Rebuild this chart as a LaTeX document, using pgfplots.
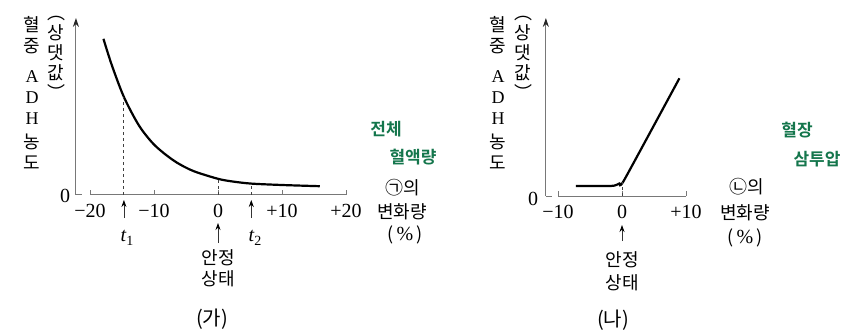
\documentclass[border=0pt]{standalone}
\usepackage{pgfplots}
\pgfplotsset{compat=1.18}
\usepackage{fontspec}
\setmainfont{Liberation Serif}
\newfontfamily\kr{Noto Sans CJK KR}
\newfontfamily\krb{Noto Sans CJK KR Bold}
\usetikzlibrary{arrows.meta}
\definecolor{axgray}{RGB}{120,120,120}
\definecolor{hand}{RGB}{20,118,76}
\begin{document}
\begin{tikzpicture}[x=1pt,y=1pt]
\useasboundingbox (0,0) rectangle (843,333);
\tikzset{lab/.style={font=\kr\fontsize{18}{21}\selectfont, inner sep=0},
         num/.style={font=\fontsize{20}{20}\selectfont, inner sep=0},
         grn/.style={font=\krb\fontsize{17}{18}\selectfont, text=hand, inner sep=0},
         arr/.style={-{Stealth[length=7pt,width=5pt,black]}, line width=0.8pt, black!80}}
\pgfplotsset{myax/.style={scale only axis, clip=false,
   axis x line*=bottom, axis y line=none,
   x axis line style={axgray, line width=1pt},
   xtick style={axgray, line width=1pt},
   tick align=inside, major tick length=5pt,
   xticklabel style={font=\fontsize{20}{20}\selectfont, inner sep=0, yshift=-9pt},
   ymin=0}}
% ---------------- panel (가)
\begin{axis}[myax, at={(90pt,138.5pt)}, anchor=south west, width=256pt, height=176.5pt,
   xmin=-20, xmax=20, ymax=176.5,
   xtick={-20,-10,0,10,20}, xticklabels={−20,−10,0,+10,+20}]
\addplot[black, line width=2.2pt, smooth] coordinates {
 (-17.9,155.7) (-16.6,129.5) (-14.7,97.5) (-12.4,69.5) (-10.3,52) (-8.5,41.5)
 (-6.45,32) (-3.86,23.5) (0,15.7) (2.3,13) (5.2,10.9) (10,9.5) (15.9,8.3)};
\addplot[black!75, dashed, line width=0.9pt] coordinates {(-14.7,0) (-14.7,97.5)};
\addplot[black!75, dashed, line width=0.9pt] coordinates {(0,0) (0,15.7)};
\addplot[black!75, dashed, line width=0.9pt] coordinates {(5.2,0) (5.2,10.9)};
\draw[axgray, line width=1pt, -{Stealth[length=9pt,width=6pt,black!85]}] (axis cs:-22.2,0) -- (axis cs:-22.2,176.5);
\draw[axgray, line width=1pt] (axis cs:-22.2,0) -- (axis cs:-21.2,0);
\draw[arr] (axis cs:-14.7,-23.5) -- (axis cs:-14.7,-5.5);
\draw[arr] (axis cs:5.2,-23.5) -- (axis cs:5.2,-5.5);
\draw[arr] (axis cs:0,-48.5) -- (axis cs:0,-28.5);
\end{axis}
% ---------------- panel (나)
\begin{axis}[myax, at={(558pt,137pt)}, anchor=south west, width=128pt, height=178pt,
   xmin=-10, xmax=10, ymax=178,
   xtick={-10,0,10}, xticklabels={−10,0,+10}]
\addplot[black, line width=2.2pt, smooth, tension=0.3] coordinates {
 (-7.2,10) (-1.8,10) (-1.0,10.8) (-0.4,12.5) (0.3,15.5) (8.97,117.7)};
\addplot[black!75, dashed, line width=0.9pt] coordinates {(0,0) (0,14.5)};
\draw[axgray, line width=1pt, -{Stealth[length=9pt,width=6pt,black!85]}] (axis cs:-11.9,0) -- (axis cs:-11.9,178);
\draw[axgray, line width=1pt] (axis cs:-11.9,0) -- (axis cs:-10.9,0);
\draw[arr] (axis cs:0,-45) -- (axis cs:0,-29);
\end{axis}
% ---------------- texts panel (가)
\node[num] at (65,137) {0};
\node[lab, anchor=north, align=center] at (32,317) {혈\\중\\[9pt]{\rmfamily A}\\{\rmfamily D}\\{\rmfamily H}\\[3pt]농\\도};
\node[lab, anchor=north, align=center, font=\kr\fontsize{18}{20}\selectfont] at (56,317) {︵\\상\\댓\\값\\︶};
\node[num] at (127,95) {\textit{t}\raisebox{-4pt}{\fontsize{14}{14}\selectfont 1}};
\node[num] at (255,95) {\textit{t}\raisebox{-4pt}{\fontsize{14}{14}\selectfont 2}};
\node[lab] at (218,75) {안정};
\node[lab] at (218,54) {상태};
\node[lab, font=\kr\fontsize{20}{20}\selectfont] at (212,14) {(가)};
\node[lab] at (403,145) {㉠의};
\node[lab] at (402,121) {변화량};
\node[lab] at (405,98) {({\rmfamily\fontsize{20}{20}\selectfont\,\%\,})};
\node[grn] at (386,204) {전체};
\node[grn] at (413,176) {혈액량};
% ---------------- texts panel (나)
\node[num] at (533,134) {0};
\node[lab, anchor=north, align=center] at (498,317) {혈\\중\\[9pt]{\rmfamily A}\\{\rmfamily D}\\{\rmfamily H}\\[3pt]농\\도};
\node[lab, anchor=north, align=center, font=\kr\fontsize{18}{20}\selectfont] at (523,317) {︵\\상\\댓\\값\\︶};
\node[lab] at (622,73) {안정};
\node[lab] at (622,50) {상태};
\node[lab, font=\kr\fontsize{20}{20}\selectfont] at (613,13) {(나)};
\node[lab] at (747,146) {㉡의};
\node[lab] at (745,120) {변화량};
\node[lab] at (745,95) {({\rmfamily\fontsize{20}{20}\selectfont\,\%\,})};
\node[grn] at (797,203) {혈장};
\node[grn] at (817,174) {삼투압};
\end{tikzpicture}
\end{document}
